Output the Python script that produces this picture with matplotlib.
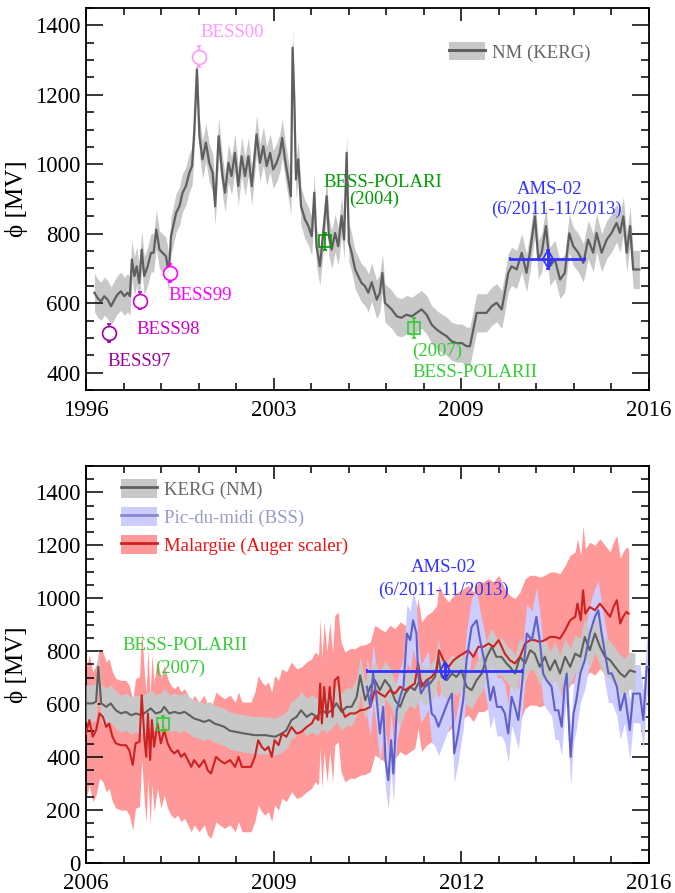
import numpy as np
import matplotlib
matplotlib.use("Agg")
import matplotlib.pyplot as plt
from matplotlib.ticker import FixedLocator, FixedFormatter, MultipleLocator
from matplotlib.patches import Patch
from matplotlib.lines import Line2D

plt.rcParams['font.family'] = ['Liberation Serif', 'DejaVu Serif']

# ---------------- top panel : NM (KERG) 1996-2016 ----------------
kerg_top_year = [
    1996.30, 1996.41, 1996.53, 1996.65, 1996.77, 1996.89, 1997.01, 1997.12, 1997.24, 1997.36,
    1997.48, 1997.56, 1997.63, 1997.72, 1997.80, 1997.89, 1997.98, 1998.07, 1998.19, 1998.31,
    1998.40, 1998.50, 1998.61, 1998.72, 1998.84, 1998.94, 1999.02, 1999.10, 1999.20, 1999.32,
    1999.43, 1999.55, 1999.67, 1999.77, 1999.85, 1999.94, 2000.03, 2000.14, 2000.26, 2000.38,
    2000.50, 2000.59, 2000.71, 2000.85, 2000.94, 2001.06, 2001.17, 2001.29, 2001.41, 2001.53,
    2001.65, 2001.77, 2001.89, 2002.06, 2002.18, 2002.30, 2002.42, 2002.54, 2002.65, 2002.77,
    2002.89, 2002.97, 2003.07, 2003.19, 2003.28, 2003.34, 2003.40, 2003.46, 2003.54, 2003.64,
    2003.78, 2003.90, 2004.02, 2004.11, 2004.19, 2004.31, 2004.43, 2004.55, 2004.63, 2004.73,
    2004.85, 2004.96, 2005.08, 2005.17, 2005.26, 2005.34, 2005.44, 2005.56, 2005.67, 2005.79,
    2005.91, 2006.03, 2006.15, 2006.33, 2006.44, 2006.53, 2006.62, 2006.86, 2007.04, 2007.21,
    2007.39, 2007.57, 2007.75, 2007.92, 2008.10, 2008.28, 2008.46, 2008.63, 2008.81, 2008.99,
    2009.17, 2009.35, 2009.52, 2009.64, 2009.76, 2009.88, 2010.06, 2010.23, 2010.41, 2010.59,
    2010.77, 2010.88, 2011.00, 2011.12, 2011.30, 2011.48, 2011.65, 2011.77, 2011.95, 2012.07,
    2012.19, 2012.34, 2012.48, 2012.66, 2012.84, 2013.01, 2013.17, 2013.31, 2013.49, 2013.67,
    2013.84, 2014.02, 2014.14, 2014.32, 2014.50, 2014.67, 2014.85, 2014.97, 2015.09, 2015.21,
    2015.33, 2015.44, 2015.66]
kerg_top_phi = [
    630, 615, 605, 620, 610, 591, 610, 625, 634, 620,
    630, 620, 726, 678, 706, 658, 754, 678, 706, 745,
    745, 812, 754, 745, 735, 687, 793, 822, 860, 879,
    918, 937, 975, 995, 1100, 1273, 1081, 1014, 1062, 1004,
    975, 879, 1081, 966, 918, 1004, 966, 1033, 937, 1023,
    966, 1023, 937, 1086, 1004, 1052, 995, 1033, 985, 1004,
    1033, 1076, 1014, 956, 908, 1336, 1187, 956, 1014, 879,
    841, 822, 793, 918, 764, 706, 802, 908, 793, 754,
    802, 764, 851, 783, 1033, 774, 745, 697, 678, 658,
    649, 630, 660, 610, 630, 687, 601, 582, 562, 558,
    567, 562, 572, 582, 567, 538, 524, 514, 505, 490,
    485, 485, 476, 476, 524, 572, 572, 572, 591, 601,
    582, 630, 687, 706, 697, 745, 687, 745, 850, 726,
    745, 822, 706, 726, 668, 687, 801, 764, 745, 716,
    783, 745, 802, 745, 783, 802, 831, 802, 850, 745,
    822, 697, 697]
KERG_TOP_ERR = 55

bess_name = ['BESS97', 'BESS98', 'BESS99', 'BESS00']
bess_year = [1996.83, 1997.92, 1998.98, 2000.00]
bess_phi = [514, 607, 687, 1310]
bess_err = [25, 25, 25, 30]
bess_color = ['#990099', '#cc00cc', '#ff00ff', '#ff99ff']

polar_name = ['BESS-POLARI', 'BESS-POLARII']
polar_year_top = [2004.49, 2007.65]
polar_phi_top = [778, 529]
polar_err_top = [24, 29]
polar_color = ['#009900', '#33cc33']

ams_year_top = 2012.40
ams_range_top = [2011.06, 2013.73]
ams_phi_top = 726
ams_err_top = 28

# ---------------- bottom panel : 2006-2016 ----------------
kerg_bot_year = [
    2006.00, 2006.12, 2006.18, 2006.22, 2006.27, 2006.36, 2006.44, 2006.53, 2006.62, 2006.71,
    2006.80, 2006.89, 2006.98, 2007.07, 2007.15, 2007.24, 2007.33, 2007.39, 2007.48, 2007.57,
    2007.66, 2007.75, 2007.84, 2007.92, 2008.01, 2008.10, 2008.19, 2008.28, 2008.37, 2008.46,
    2008.55, 2008.65, 2008.82, 2009.00, 2009.18, 2009.36, 2009.48, 2009.56, 2009.65, 2009.74,
    2009.82, 2009.92, 2010.01, 2010.10, 2010.19, 2010.28, 2010.36, 2010.45, 2010.54, 2010.63,
    2010.72, 2010.81, 2010.87, 2010.96, 2011.05, 2011.13, 2011.22, 2011.31, 2011.40, 2011.49,
    2011.58, 2011.67, 2011.76, 2011.84, 2011.93, 2012.02, 2012.11, 2012.20, 2012.26, 2012.32,
    2012.41, 2012.50, 2012.58, 2012.67, 2012.76, 2012.85, 2012.94, 2013.03, 2013.12, 2013.21,
    2013.29, 2013.38, 2013.47, 2013.53, 2013.62, 2013.71, 2013.80, 2013.89, 2013.97, 2014.06,
    2014.15, 2014.24, 2014.33, 2014.42, 2014.51, 2014.60, 2014.69, 2014.78, 2014.86, 2014.95,
    2015.04, 2015.13, 2015.22, 2015.31, 2015.40, 2015.49, 2015.57, 2015.66, 2015.75]
kerg_bot_phi = [
    603, 603, 610, 741, 603, 590, 603, 577, 565, 571,
    558, 565, 558, 571, 584, 565, 571, 590, 565, 571,
    565, 571, 558, 546, 540, 533, 540, 527, 521, 514,
    500, 496, 489, 483, 483, 477, 489, 502, 540, 552,
    577, 552, 565, 552, 577, 565, 577, 603, 571, 590,
    590, 628, 709, 615, 666, 691, 653, 691, 666, 615,
    590, 640, 666, 653, 691, 666, 678, 703, 779, 703,
    691, 716, 703, 728, 666, 653, 691, 716, 779, 817,
    779, 779, 754, 741, 716, 779, 754, 804, 791, 741,
    779, 728, 766, 716, 779, 741, 791, 779, 854, 804,
    867, 817, 779, 766, 741, 716, 703, 728, 722]
KERG_BOT_ERR = 70

auger_year = [
    2006.00, 2006.06, 2006.12, 2006.18, 2006.24, 2006.30, 2006.36, 2006.41, 2006.47, 2006.53,
    2006.62, 2006.71, 2006.77, 2006.83, 2006.88, 2006.95, 2006.99, 2007.04, 2007.07, 2007.10,
    2007.14, 2007.17, 2007.21, 2007.27, 2007.33, 2007.39, 2007.45, 2007.51, 2007.57, 2007.63,
    2007.69, 2007.75, 2007.81, 2007.87, 2007.92, 2008.01, 2008.10, 2008.16, 2008.22, 2008.31,
    2008.37, 2008.46, 2008.56, 2008.65, 2008.71, 2008.77, 2008.85, 2008.93, 2009.00, 2009.06,
    2009.12, 2009.18, 2009.24, 2009.30, 2009.35, 2009.42, 2009.48, 2009.56, 2009.65, 2009.74,
    2009.83, 2009.92, 2010.01, 2010.07, 2010.13, 2010.16, 2010.19, 2010.23, 2010.28, 2010.33,
    2010.38, 2010.42, 2010.48, 2010.53, 2010.60, 2010.69, 2010.78, 2010.87, 2010.96, 2011.05,
    2011.13, 2011.22, 2011.31, 2011.40, 2011.49, 2011.58, 2011.67, 2011.76, 2011.84, 2011.90,
    2011.96, 2012.05, 2012.14, 2012.23, 2012.27, 2012.35, 2012.44, 2012.53, 2012.61, 2012.70,
    2012.79, 2012.88, 2012.97, 2013.06, 2013.15, 2013.24, 2013.33, 2013.44, 2013.53, 2013.62,
    2013.71, 2013.80, 2013.89, 2013.97, 2014.06, 2014.15, 2014.24, 2014.33, 2014.42, 2014.51,
    2014.60, 2014.69, 2014.73, 2014.79, 2014.83, 2014.87, 2014.95, 2015.04, 2015.13, 2015.22,
    2015.31, 2015.37, 2015.43, 2015.49, 2015.54, 2015.60, 2015.64]
auger_phi = [
    489, 540, 477, 502, 565, 552, 514, 527, 477, 452,
    445, 445, 426, 370, 452, 458, 634, 464, 401, 565,
    389, 540, 439, 527, 452, 502, 452, 426, 414, 426,
    401, 414, 389, 363, 389, 363, 389, 351, 338, 401,
    389, 376, 389, 363, 401, 363, 363, 363, 401, 464,
    439, 426, 439, 401, 464, 445, 489, 477, 514, 489,
    496, 514, 527, 552, 540, 678, 527, 665, 552, 665,
    552, 691, 703, 590, 552, 565, 565, 577, 580, 590,
    653, 640, 628, 653, 640, 666, 653, 666, 678, 754,
    666, 691, 703, 728, 804, 766, 741, 766, 779, 791,
    804, 779, 817, 817, 829, 817, 842, 791, 766, 754,
    779, 829, 842, 842, 835, 842, 854, 854, 848, 879,
    917, 930, 980, 917, 1030, 942, 967, 955, 980, 955,
    930, 967, 993, 905, 930, 949, 942]
AUGER_ERR = 245

bss_year = [
    2010.99, 2011.05, 2011.10, 2011.16, 2011.22, 2011.28, 2011.32, 2011.37, 2011.42, 2011.46,
    2011.52, 2011.58, 2011.64, 2011.70, 2011.76, 2011.81, 2011.87, 2011.90, 2011.95, 2012.02,
    2012.08, 2012.14, 2012.20, 2012.26, 2012.35, 2012.44, 2012.50, 2012.54, 2012.61, 2012.70,
    2012.76, 2012.85, 2012.94, 2013.00, 2013.06, 2013.12, 2013.18, 2013.24, 2013.30, 2013.38,
    2013.44, 2013.50, 2013.56, 2013.62, 2013.68, 2013.74, 2013.83, 2013.92, 2014.00, 2014.06,
    2014.12, 2014.18, 2014.27, 2014.33, 2014.39, 2014.45, 2014.50, 2014.54, 2014.58, 2014.61,
    2014.66, 2014.71, 2014.78, 2014.86, 2014.95, 2015.04, 2015.10, 2015.16, 2015.22, 2015.28,
    2015.34, 2015.43, 2015.49, 2015.57, 2015.66, 2015.72, 2015.84, 2015.90, 2015.96, 2016.00]
bss_phi = [
    666, 590, 716, 628, 489, 590, 389, 313, 464, 338,
    577, 628, 666, 867, 842, 917, 867, 716, 640, 666,
    691, 565, 552, 515, 565, 615, 640, 414, 489, 615,
    766, 892, 917, 842, 779, 716, 615, 666, 590, 590,
    565, 489, 628, 590, 540, 666, 867, 842, 930, 842,
    716, 691, 666, 577, 577, 515, 666, 716, 515, 401,
    565, 615, 716, 766, 867, 930, 955, 867, 791, 716,
    716, 666, 577, 640, 502, 640, 640, 540, 741, 741]
BSS_ERR = 110

polar2_year_bot = 2007.36
polar2_phi_bot = 527
polar2_err_bot = 30

ams_year_bot = 2012.37
ams_range_bot = [2010.985, 2013.74]
ams_phi_bot = 725
ams_err_bot = 25

GREY_LINE = '#5f5f5f'
GREY_BAND = '#c8c8c8'
AMS_COLOR = '#3333ff'
TXT = 13.5


def style_axes(ax, x0, x1, xlabels, y0, y1):
    ax.set_xlim(x0, x1)
    ax.set_ylim(y0, y1)
    ax.xaxis.set_major_locator(FixedLocator(np.linspace(x0, x1, 4)))
    ax.xaxis.set_major_formatter(FixedFormatter(xlabels))
    ax.xaxis.set_minor_locator(FixedLocator(np.linspace(x0, x1, 16)))
    ax.yaxis.set_major_locator(MultipleLocator(200))
    ax.yaxis.set_minor_locator(MultipleLocator(50))
    ax.tick_params(which='both', direction='in', top=True, right=True,
                   width=1.1, labelsize=16.5, colors='black')
    ax.tick_params(axis='y', which='major', length=12, pad=4)
    ax.tick_params(axis='y', which='minor', length=6)
    ax.tick_params(axis='x', which='major', length=9, pad=7.5)
    ax.tick_params(axis='x', which='minor', length=5)
    for s in ax.spines.values():
        s.set_linewidth(1.3)
    ax.set_ylabel('\u03d5 [MV]', fontsize=18, labelpad=5)


def ams_point(ax, x, xr, y, yerr):
    ax.errorbar([x], [y], xerr=[[x - xr[0]], [xr[1] - x]], yerr=[[yerr], [yerr]],
                fmt='d', mfc='none', mec=AMS_COLOR, ecolor=AMS_COLOR, ms=9, mew=1.3,
                elinewidth=2, capsize=1.5, capthick=3, zorder=6)


def top_panel(ax):
    kx = np.array(kerg_top_year)
    ky = np.array(kerg_top_phi)
    ax.fill_between(kx, ky - KERG_TOP_ERR, ky + KERG_TOP_ERR, color=GREY_BAND, lw=0, zorder=1)
    ax.plot(kx, ky, color=GREY_LINE, lw=1.6, zorder=2)

    for x, y, e, c in zip(bess_year, bess_phi, bess_err, bess_color):
        ax.errorbar([x], [y], yerr=[e], fmt='o', mfc='white', mec=c, ecolor=c,
                    ms=10, mew=1.2, capsize=1.5, capthick=3, elinewidth=1.2, zorder=5)
    for x, y, e, c in zip(polar_year_top, polar_phi_top, polar_err_top, polar_color):
        ax.errorbar([x], [y], yerr=[e], fmt='s', mfc='none', mec=c, ecolor=c,
                    ms=9, mew=1.2, capsize=1.5, capthick=3, elinewidth=1.2, zorder=5)
    ams_point(ax, ams_year_top, ams_range_top, ams_phi_top, ams_err_top)

    ax.text(1996.75, 432, bess_name[0], color=bess_color[0], fontsize=TXT, va='center')
    ax.text(1997.78, 524, bess_name[1], color=bess_color[1], fontsize=TXT, va='center')
    ax.text(1998.94, 622, bess_name[2], color=bess_color[2], fontsize=TXT, va='center')
    ax.text(2000.05, 1379, bess_name[3], color=bess_color[3], fontsize=TXT, va='center')
    ax.text(2006.53, 948, polar_name[0], color=polar_color[0], fontsize=TXT, ha='center', va='center')
    ax.text(2006.25, 899, '(2004)', color=polar_color[0], fontsize=TXT, ha='center', va='center')
    ax.text(2008.46, 461, '(2007)', color=polar_color[1], fontsize=TXT, ha='center', va='center')
    ax.text(2009.82, 399, polar_name[1], color=polar_color[1], fontsize=TXT, ha='center', va='center')
    ax.text(2012.48, 927, 'AMS-02', color=AMS_COLOR, fontsize=TXT, ha='center', va='center')
    ax.text(2012.72, 870, '(6/2011-11/2013)', color=AMS_COLOR, fontsize=TXT, ha='center', va='center')

    h = (Patch(color=GREY_BAND, lw=0), Line2D([], [], color=GREY_LINE, lw=2.2))
    leg = ax.legend([h], ['NM (KERG)'], loc='center left', bbox_to_anchor=(0.645, 0.885),
                    frameon=False, fontsize=TXT, handlelength=1.9, handleheight=1.1,
                    handletextpad=0.4, borderpad=0, borderaxespad=0)
    leg.get_texts()[0].set_color('#666666')

    style_axes(ax, 1996, 2016, ['1996', '2003', '2009', '2016'], 350, 1450)


def bottom_panel(ax):
    ax_, ay = np.array(auger_year), np.array(auger_phi)
    bx, by = np.array(bss_year), np.array(bss_phi)
    kx, ky = np.array(kerg_bot_year), np.array(kerg_bot_phi)
    red_band, red_line = '#ff9999', '#cc2222'
    blue_band, blue_line = '#ccccff', '#6060c8'

    ax.fill_between(ax_, ay - AUGER_ERR, ay + AUGER_ERR, color=red_band, lw=0, zorder=1)
    ax.fill_between(bx, by - BSS_ERR, by + BSS_ERR, color=blue_band, lw=0, zorder=2)
    ax.fill_between(kx, ky - KERG_BOT_ERR, ky + KERG_BOT_ERR, color=GREY_BAND, lw=0, zorder=3)
    ax.plot(kx, ky, color=GREY_LINE, lw=1.5, zorder=4)
    ax.plot(ax_, ay, color=red_line, lw=1.5, zorder=4)
    ax.plot(bx, by, color=blue_line, lw=1.5, zorder=4)

    ax.errorbar([polar2_year_bot], [polar2_phi_bot], yerr=[polar2_err_bot], fmt='s', mfc='none',
                mec=polar_color[1], ecolor=polar_color[1], ms=9, mew=1.2, capsize=1.5,
                capthick=3, elinewidth=1.2, zorder=5)
    ams_point(ax, ams_year_bot, ams_range_bot, ams_phi_bot, ams_err_bot)

    ax.text(2007.76, 823, 'BESS-POLARII', color=polar_color[1], fontsize=TXT, ha='center', va='center')
    ax.text(2007.67, 735, '(2007)', color=polar_color[1], fontsize=TXT, ha='center', va='center')
    ax.text(2012.35, 1117, 'AMS-02', color=AMS_COLOR, fontsize=TXT, ha='center', va='center')
    ax.text(2012.35, 1030, '(6/2011-11/2013)', color=AMS_COLOR, fontsize=TXT, ha='center', va='center')

    handles = [(Patch(color=GREY_BAND, lw=0), Line2D([], [], color=GREY_LINE, lw=2)),
               (Patch(color=blue_band, lw=0), Line2D([], [], color='#8888cc', lw=2)),
               (Patch(color=red_band, lw=0), Line2D([], [], color=red_line, lw=2))]
    labels = ['KERG (NM)', 'Pic-du-midi (BSS)', 'Malarg\u00fce (Auger scaler)']
    leg = ax.legend(handles, labels, loc='upper left', bbox_to_anchor=(0.062, 0.967),
                    frameon=False, fontsize=TXT, handlelength=1.9, handleheight=1.15,
                    handletextpad=0.4, labelspacing=0.45, borderpad=0, borderaxespad=0)
    for t, c in zip(leg.get_texts(), ['#666666', '#9999cc', '#ee1111']):
        t.set_color(c)

    style_axes(ax, 2006, 2016, ['2006', '2009', '2012', '2016'], 0, 1500)


def main():
    fig = plt.figure(figsize=(6.75, 8.93), dpi=100)
    ax_top = fig.add_axes([0.1274, 0.5633, 0.834, 0.4278])
    ax_bot = fig.add_axes([0.1274, 0.0336, 0.834, 0.4446])
    top_panel(ax_top)
    bottom_panel(ax_bot)
    fig.savefig('out.png', dpi=100)


main()
